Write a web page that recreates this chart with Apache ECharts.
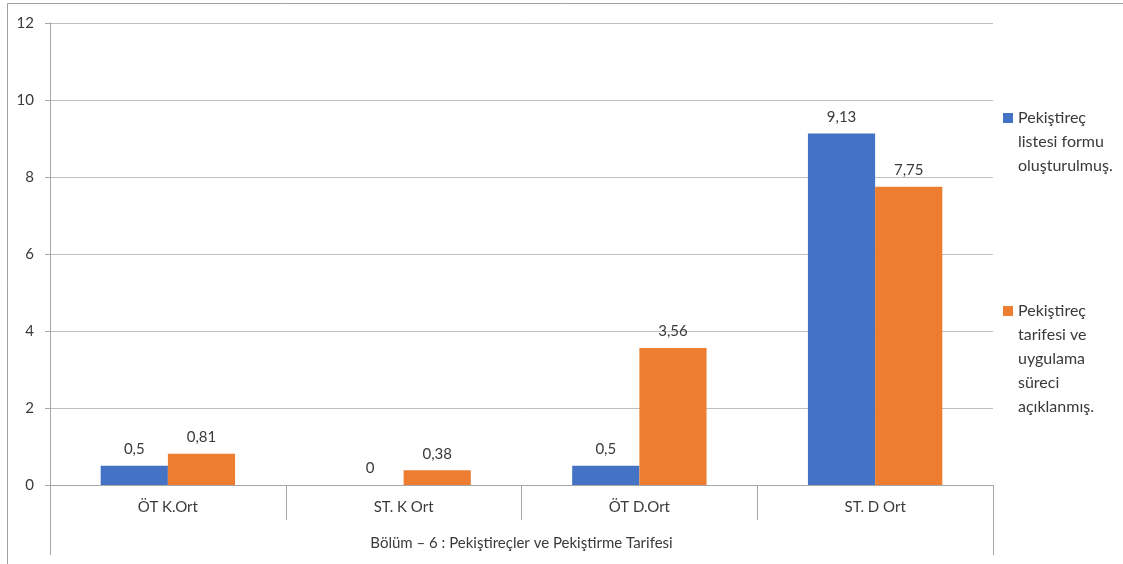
<!DOCTYPE html>
<html>
<head>
<meta charset="utf-8">
<script src="https://cdn.jsdelivr.net/npm/echarts@6/dist/echarts.min.js"></script>
<style>html,body{margin:0;padding:0;background:#fff;}#c{width:1123px;height:564px;}</style>
</head>
<body>
<div id="c"></div>
<script>
const categories = ['ÖT K.Ort', 'ST. K Ort', 'ÖT D.Ort', 'ST. D Ort'];
const groupLabel = ['Bölüm – 6 : Pekiştireçler ve Pekiştirme Tarifesi'];
const seriesNames = ['Pekiştireç listesi formu oluşturulmuş.', 'Pekiştireç tarifesi ve uygulama süreci açıklanmış.'];
const legendLabels = ['Pekiştireç\nlistesi formu\noluşturulmuş.', 'Pekiştireç\ntarifesi ve\nuygulama\nsüreci\naçıklanmış.'];
const listeValues = [0.5, 0, 0.5, 9.13];
const tarifeValues = [0.81, 0.38, 3.56, 7.75];
const yTicks = [0, 2, 4, 6, 8, 10, 12];

const FONT = 'Lato, "Open Sans", sans-serif';
const TXT = '#3a3a3a';
const AX = '#a6a6a6';

const chart = echarts.init(document.getElementById('c'), null, {renderer: 'canvas'});
const fmt = v => String(v).replace('.', ',');
const lbl = {show: true, position: 'top', distance: 9, color: TXT, fontFamily: FONT, fontSize: 15,
  formatter: p => fmt(p.value)};

function legendFor(i, top) {
  const n = legendLabels[i].split('\n').length;
  // prepend blank lines so the icon sits beside the first text line
  const text = ' \n'.repeat(n - 1) + legendLabels[i];
  return {
    data: [seriesNames[i]], left: 1003, top: top, orient: 'vertical', padding: 0,
    itemWidth: 10, itemHeight: 10, itemGap: 0, icon: 'rect',
    formatter: () => text,
    textStyle: {color: TXT, fontFamily: FONT, fontSize: 16, lineHeight: 24}
  };
}

chart.setOption({
  animation: false,
  backgroundColor: '#fff',
  grid: {left: 50, right: 130, top: 23, bottom: 79, containLabel: false},
  legend: [legendFor(0, 58), legendFor(1, 203)],
  xAxis: [{
    type: 'category', data: categories, position: 'bottom',
    axisLine: {lineStyle: {color: AX, width: 1}},
    axisTick: {show: true, length: 35, interval: 0, alignWithLabel: false, lineStyle: {color: AX}},
    axisLabel: {color: TXT, fontFamily: FONT, fontSize: 15, margin: 15, interval: 0}
  }, {
    type: 'category', data: groupLabel, position: 'bottom', offset: 35,
    axisLine: {show: false},
    axisTick: {show: true, length: 35, alignWithLabel: false, lineStyle: {color: AX}},
    axisLabel: {color: TXT, fontFamily: FONT, fontSize: 15, margin: 16}
  }],
  yAxis: {
    type: 'value', min: yTicks[0], max: yTicks[yTicks.length - 1], interval: yTicks[1] - yTicks[0],
    axisLine: {show: true, lineStyle: {color: AX}},
    axisTick: {show: true, length: 5, lineStyle: {color: AX}},
    splitLine: {lineStyle: {color: '#bfbfbf'}},
    axisLabel: {color: TXT, fontFamily: FONT, fontSize: 15, margin: 16}
  },
  series: [{
    name: seriesNames[0], type: 'bar', data: listeValues, xAxisIndex: 0,
    barGap: '0%', barCategoryGap: '43%', itemStyle: {color: '#4472C4'}, label: lbl
  }, {
    name: seriesNames[1], type: 'bar', data: tarifeValues, xAxisIndex: 0,
    barGap: '0%', barCategoryGap: '43%', itemStyle: {color: '#ED7D31'}, label: lbl
  }],
  graphic: [{
    type: 'polyline', silent: true,
    shape: {points: [[7.5, 564], [7.5, 3.5], [1123, 3.5]]},
    style: {stroke: '#a0a0a0', lineWidth: 1, fill: null}
  }]
});
</script>
</body>
</html>
